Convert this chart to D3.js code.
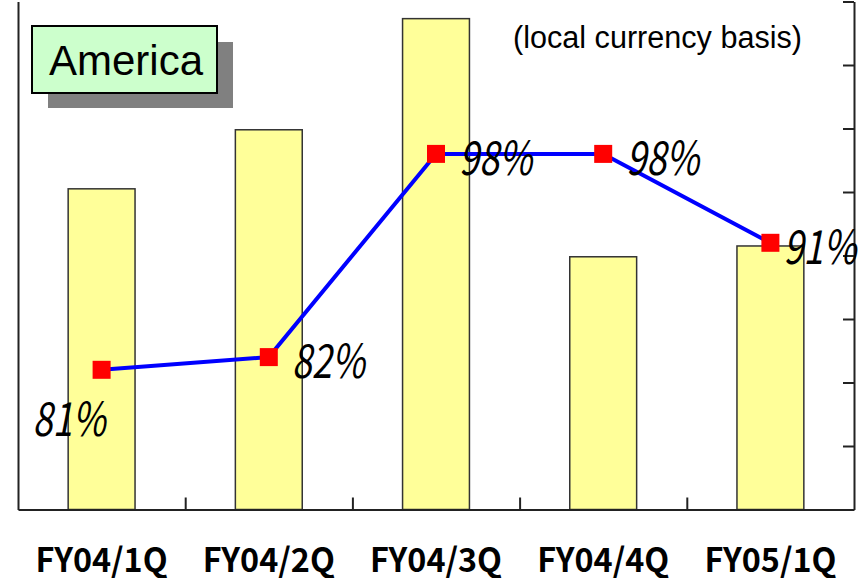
<!DOCTYPE html>
<html>
<head>
<meta charset="utf-8">
<script src="https://cdn.jsdelivr.net/npm/d3@7"></script>
<style>
  body { margin: 0; background: #fff; }
  svg { display: block; }
</style>
</head>
<body>
<svg id="chart" width="859" height="578"></svg>
<script>
  var quarters = ['FY04/1Q', 'FY04/2Q', 'FY04/3Q', 'FY04/4Q', 'FY05/1Q'];
  var barValues = [5.05, 5.98, 7.73, 3.98, 4.15];
  var ratioValues = [81, 82, 98, 98, 91];
  var ratioLabels = ['81%', '82%', '98%', '98%', '91%'];

  var svg = d3.select('#chart');
  var plotLeft = 18, plotRight = 854, plotTop = 1.5, plotBottom = 509.5;

  var x = d3.scaleBand().domain(quarters).range([plotLeft, plotRight])
    .paddingInner(0.6).paddingOuter(0.3);
  var xEdge = d3.scaleLinear().domain([0, quarters.length]).range([plotLeft, plotRight]);
  var yBar = d3.scaleLinear().domain([0, 8]).range([plotBottom, plotTop]);
  var yRatio = d3.scaleLinear().domain([70, 110]).range([plotBottom, plotTop]);

  // bars
  svg.append('g').selectAll('rect')
    .data(barValues)
    .enter().append('rect')
    .attr('x', function(d, i) { return x(quarters[i]); })
    .attr('y', function(d) { return yBar(d); })
    .attr('width', x.bandwidth())
    .attr('height', function(d) { return plotBottom - yBar(d); })
    .attr('fill', '#ffff99')
    .attr('stroke', '#333')
    .attr('stroke-width', 1.5);

  // axes
  var leftAxis = svg.append('g')
    .attr('transform', 'translate(' + plotLeft + ',0)')
    .call(d3.axisLeft(yRatio).tickValues([]).tickSizeOuter(0));
  var rightAxis = svg.append('g')
    .attr('transform', 'translate(' + plotRight + ',0)')
    .call(d3.axisRight(yBar).ticks(8).tickSize(-11).tickSizeOuter(0).tickFormat(''));
  var bottomAxis = svg.append('g')
    .attr('transform', 'translate(0,' + plotBottom + ')')
    .call(d3.axisBottom(xEdge).tickValues(d3.range(1, quarters.length))
      .tickSize(-12).tickSizeOuter(0).tickFormat(''));
  [leftAxis, rightAxis, bottomAxis].forEach(function(a) {
    a.selectAll('path, line').attr('stroke', '#222').attr('stroke-width', 2);
  });

  // line + markers
  var cx = function(i) { return x(quarters[i]) + x.bandwidth() / 2; };
  var line = d3.line()
    .x(function(d, i) { return cx(i); })
    .y(function(d) { return yRatio(d); });
  svg.append('path')
    .datum(ratioValues)
    .attr('d', line)
    .attr('fill', 'none')
    .attr('stroke', '#0000ff')
    .attr('stroke-width', 4);
  svg.append('g').selectAll('rect')
    .data(ratioValues)
    .enter().append('rect')
    .attr('x', function(d, i) { return cx(i) - 9; })
    .attr('y', function(d) { return yRatio(d) - 9; })
    .attr('width', 18)
    .attr('height', 18)
    .attr('fill', '#ff0000');

  // percentage labels
  svg.append('g').selectAll('text')
    .data(ratioValues)
    .enter().append('text')
    .attr('x', function(d, i) { return i === 0 ? cx(i) - 69 : cx(i) + (i === 4 ? 13 : 23); })
    .attr('y', function(d, i) { return yRatio(d) + (i === 0 ? 66 : 21); })
    .attr('textLength', 73)
    .attr('lengthAdjust', 'spacingAndGlyphs')
    .style('font-family', '"Noto Sans CJK JP", "DejaVu Sans", sans-serif')
    .style('font-style', 'italic')
    .style('font-size', '47px')
    .attr('fill', '#000')
    .text(function(d, i) { return ratioLabels[i]; });

  // category labels
  svg.append('g').selectAll('text')
    .data(quarters)
    .enter().append('text')
    .attr('x', function(d) { return x(d) + x.bandwidth() / 2; })
    .attr('y', 572)
    .attr('text-anchor', 'middle')
    .attr('textLength', 132)
    .attr('lengthAdjust', 'spacingAndGlyphs')
    .style('font-family', '"Noto Sans CJK JP", "DejaVu Sans", sans-serif')
    .style('font-weight', 'bold')
    .style('font-size', '33px')
    .attr('fill', '#000')
    .text(function(d) { return d; });

  // title box
  var title = svg.append('g');
  title.append('rect')
    .attr('x', 48).attr('y', 42).attr('width', 185).attr('height', 66)
    .attr('fill', '#808080');
  title.append('rect')
    .attr('x', 32).attr('y', 26).attr('width', 185).attr('height', 67)
    .attr('fill', '#ccffcc').attr('stroke', '#000').attr('stroke-width', 2);
  title.append('text')
    .attr('x', 49).attr('y', 75)
    .style('font-family', '"Liberation Sans", Arial, sans-serif')
    .style('font-size', '42px')
    .attr('fill', '#000')
    .text('America');

  svg.append('text')
    .attr('x', 513).attr('y', 48)
    .attr('textLength', 289)
    .attr('lengthAdjust', 'spacingAndGlyphs')
    .style('font-family', '"Liberation Sans", Arial, sans-serif')
    .style('font-size', '31px')
    .attr('fill', '#000')
    .text('(local currency basis)');
</script>
</body>
</html>
